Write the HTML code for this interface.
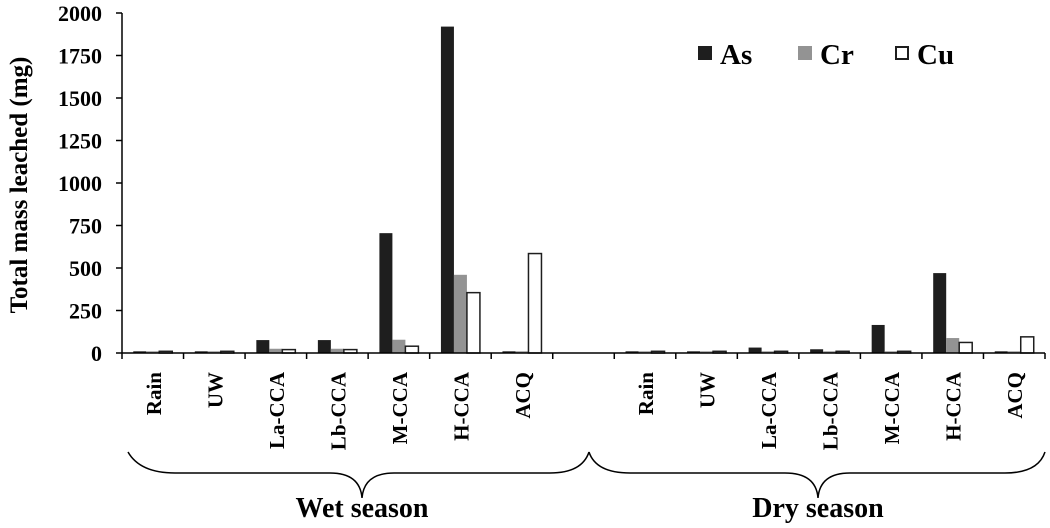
<!DOCTYPE html>
<html><head><meta charset="utf-8"><style>
body{margin:0;background:#fff}
svg text{font-family:"Liberation Serif",serif;font-weight:bold;fill:#000}
</style></head><body>
<svg id="chart" width="1050" height="523" viewBox="0 0 1050 523">
<g id="bars"></g>
<g id="axes"></g>
<g>
 <rect x="698" y="46" width="14" height="14" fill="#1e1e1e"/>
 <text x="720" y="64" font-size="29">As</text>
 <rect x="798" y="46" width="14" height="14" fill="#939393"/>
 <text x="820" y="64" font-size="29">Cr</text>
 <rect x="896" y="47" width="12" height="12" fill="#fff" stroke="#1e1e1e" stroke-width="2"/>
 <text x="917" y="64" font-size="29">Cu</text>
</g>
<path d="M128,452 Q140,473 175,473 L330,473 Q360,473 362,498 Q364,473 394,473 L550,473 Q582,473 589,452" fill="none" stroke="#000" stroke-width="1.5"/>
<path d="M589,452 Q596,473 630,473 L785,473 Q816,473 818,498 Q820,473 850,473 L1005,473 Q1038,473 1045,452" fill="none" stroke="#000" stroke-width="1.5"/>
<text x="362" y="517" font-size="28" text-anchor="middle">Wet season</text>
<text x="818" y="517" font-size="28" text-anchor="middle">Dry season</text>
<text transform="translate(27,185) rotate(-90)" font-size="25" text-anchor="middle">Total mass leached (mg)</text>
</svg>
<script>
const categories = ["Rain","UW","La-CCA","Lb-CCA","M-CCA","H-CCA","ACQ","","Rain","UW","La-CCA","Lb-CCA","M-CCA","H-CCA","ACQ"];
const asValues = [10,10,76,76,705,1920,10,null,10,10,32,22,165,470,10];
const crValues = [10,10,25,25,78,460,10,null,10,10,10,10,10,88,10];
const cuValues = [10,10,20,20,40,355,585,null,10,10,10,10,10,62,95];
const yTicks = [0,250,500,750,1000,1250,1500,1750,2000];

const NS="http://www.w3.org/2000/svg";
const x0=122, x1=1045, y0=353, yTop=13, yMax=2000;
const slot=(x1-x0)/categories.length;
const yS=v=>y0-(v/yMax)*(y0-yTop);
const xS=i=>x0+i*slot;
function mk(tag,attrs,parent){const e=document.createElementNS(NS,tag);for(const k in attrs)e.setAttribute(k,attrs[k]);parent.appendChild(e);return e;}
const bars=document.getElementById('bars'), axes=document.getElementById('axes');
const series=[[asValues,"#1e1e1e","none","as"],[crValues,"#939393","none","cr"],[cuValues,"#fff","#1e1e1e","cu"]];
const bw=13;
categories.forEach((c,i)=>{
  series.forEach((s,j)=>{
    const v=s[0][i]; if(v==null) return;
    const bx=xS(i)+slot/2-1.5*bw+j*bw;
    const r=mk('rect',{x:bx,y:yS(v),width:bw,height:y0-yS(v),fill:s[1],stroke:s[2],'stroke-width':s[2]==='none'?0:1.5},bars);
    
    
  });
  if(c){
    const t=mk('text',{transform:`translate(${xS(i)+slot/2+8},372) rotate(-90)`,'font-size':21,'text-anchor':'end'},axes);
    t.textContent=c;
    
    
  }
});
for(let i=0;i<=categories.length;i++){
  const l=mk('line',{x1:xS(i),x2:xS(i),y1:y0,y2:y0+6,stroke:'#000','stroke-width':1.5},axes);
  
  
}
const xa=mk('line',{x1:x0,x2:x1,y1:y0,y2:y0,stroke:'#000','stroke-width':1.5},axes);


const ya=mk('line',{x1:x0,x2:x0,y1:yTop,y2:y0,stroke:'#000','stroke-width':1.5},axes);


yTicks.forEach(v=>{
  const l=mk('line',{x1:x0-6,x2:x0,y1:yS(v),y2:yS(v),stroke:'#000','stroke-width':1.5},axes);
  
  
  const t=mk('text',{x:x0-20,y:yS(v)+8,'font-size':22,'text-anchor':'end'},axes);
  t.textContent=v;
  
  
});
</script>
</body></html>
